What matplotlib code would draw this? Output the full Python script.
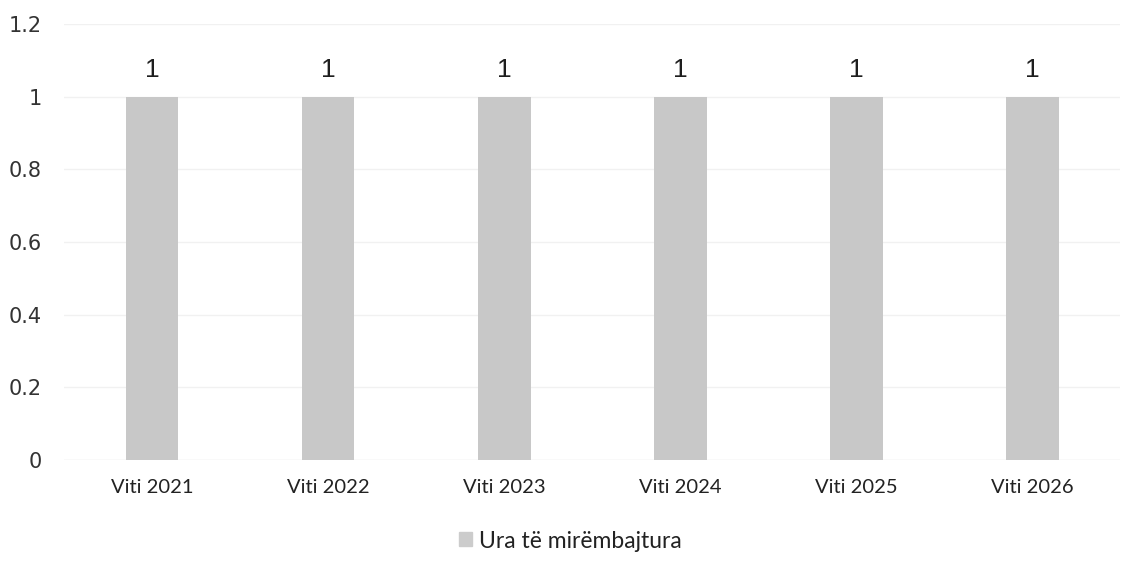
import matplotlib.pyplot as plt
import numpy as np

# data
years = ["Viti 2021", "Viti 2022", "Viti 2023", "Viti 2024", "Viti 2025", "Viti 2026"]
values = [1, 1, 1, 1, 1, 1]
series_name = "Ura të mirëmbajtura"

fig = plt.figure(figsize=(11.34, 5.74), dpi=100)
ax = fig.add_axes([0.0564, 0.1986, 0.9316, 0.7594])

x = np.arange(len(years))
ax.bar(x, values, 0.3, color='#c8c8c8', label=series_name, zorder=2)

# value labels on top of the bars
for xi, v in zip(x, values):
    ax.text(xi, v + 0.055, f"{v:g}", ha='center', va='baseline', fontsize=19,
            family='Liberation Sans', color='#1e1e1e')

ax.set_xlim(-0.5, len(years) - 0.5)
ax.set_ylim(0, 1.2)
ax.set_yticks([0, 0.2, 0.4, 0.6, 0.8, 1, 1.2])
ax.set_yticklabels(["0", "0.2", "0.4", "0.6", "0.8", "1", "1.2"],
                   family='DejaVu Sans', fontsize=15, color='#333333')
ax.set_xticks(x)
ax.set_xticklabels(years, fontsize=14.5, family='Lato', color='#222222')

ax.yaxis.grid(True, color='#f1f1f1', linewidth=1, zorder=0)
ax.tick_params(axis='y', length=0, pad=16)
ax.tick_params(axis='x', length=0, pad=14)
for s in ax.spines.values():
    s.set_visible(False)
ax.axhline(0, color='#ececec', linewidth=1, zorder=1)

leg = fig.legend(loc='center', bbox_to_anchor=(0.503, 1 - 541 / 574), frameon=False,
                 prop={'family': 'Lato', 'size': 16.5}, handlelength=0.55,
                 handleheight=0.55, handletextpad=0.3, labelcolor='#222222')
for h in leg.legend_handles:
    h.set_color('#cccccc')

fig.savefig("out.png", dpi=100)
